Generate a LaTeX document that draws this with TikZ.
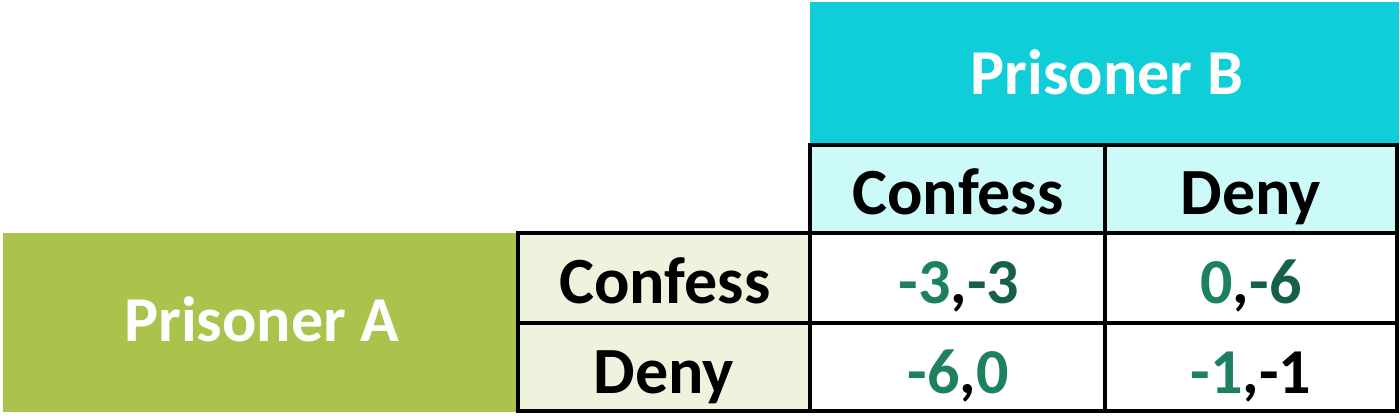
\documentclass[tikz,border=0pt]{standalone}
\usepackage{fontspec}
\setmainfont{Carlito}
\usepackage{tikz}
\usetikzlibrary{positioning}

\definecolor{bcyan}{HTML}{0FCED8}
\definecolor{lcyan}{HTML}{CCFAF9}
\definecolor{agreen}{HTML}{A9C34C}
\definecolor{lbeige}{HTML}{EEF3DE}
\definecolor{pgreen}{HTML}{1E8062}
\definecolor{dgreen}{HTML}{16604A}

\tikzset{
  cell/.style={inner sep=0pt, outer sep=0pt, anchor=base, font=\fontsize{66}{70}\selectfont\bfseries},
  player/.style={cell, text=white, font=\fontsize{64}{70}\selectfont\bfseries},
  payoff/.style={cell, font=\fontsize{64}{70}\selectfont\bfseries},
  grid/.style={line width=3.5pt, black}
}
\newcommand{\pay}[3]{\textcolor{pgreen}{#1}\textcolor{black}{,}\textcolor{#3}{#2}}

\begin{document}
\begin{tikzpicture}[x=1pt,y=1pt]
\useasboundingbox (0,0) rectangle (1400,415);
% coloured blocks
\fill[bcyan] (810,413) rectangle (1399,270);
\fill[lcyan] (810,270) rectangle (1397,182);
\fill[agreen] (3,182) rectangle (518,3);
\fill[lbeige] (518,182) rectangle (810,4);
% labels
\node[player] (pb) at (1107,320) {Prisoner B};
\node[player] (pa) at (262,73) {Prisoner A};
\node[cell] (bc) at (958,200) {Confess};
\node[cell] (bd) at (1251,200) {Deny};
\node[cell] (ac) at (665,111) {Confess};
\node[cell] (ad) at (664,21) {Deny};
\node[payoff] (cc) at (959,111) {\pay{-3}{-3}{dgreen}};
\node[payoff] (cd) at (1251,111) {\pay{0}{-6}{dgreen}};
\node[payoff] (dc) at (958,22) {\pay{-6}{0}{pgreen}};
\node[payoff] (dd) at (1251,22) {\pay{-1}{-1}{black}};
% grid
\draw[grid] (810,270) rectangle (1397,182);
\draw[grid] (518,182) rectangle (1397,4);
\draw[grid] (1105,270) -- (1105,4);
\draw[grid] (810,182) -- (810,4);
\draw[grid] (518,92) -- (1397,92);
\end{tikzpicture}
\end{document}
